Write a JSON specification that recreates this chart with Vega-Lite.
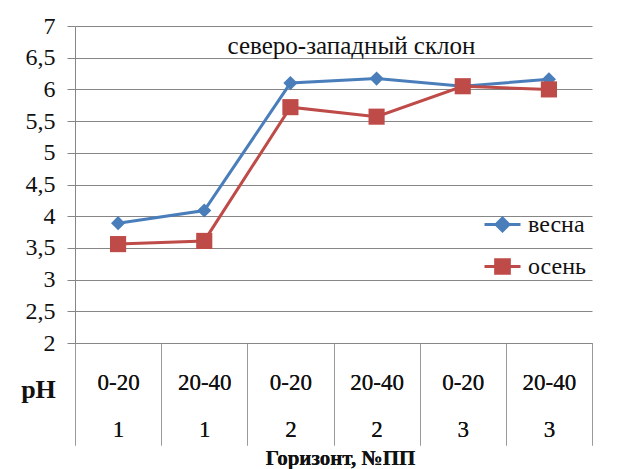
{
  "$schema": "https://vega.github.io/schema/vega-lite/v6.json",
  "width": 517,
  "height": 317,
  "autosize": "none",
  "padding": {"left": 75, "top": 26, "right": 46, "bottom": 126},
  "background": "white",
  "data": {
    "values": [
      {"sample": "0-20|1", "season": "весна", "pH": 3.89},
      {"sample": "20-40|1", "season": "весна", "pH": 4.09},
      {"sample": "0-20|2", "season": "весна", "pH": 6.1},
      {"sample": "20-40|2", "season": "весна", "pH": 6.17},
      {"sample": "0-20|3", "season": "весна", "pH": 6.05},
      {"sample": "20-40|3", "season": "весна", "pH": 6.16},
      {"sample": "0-20|1", "season": "осень", "pH": 3.56},
      {"sample": "20-40|1", "season": "осень", "pH": 3.61},
      {"sample": "0-20|2", "season": "осень", "pH": 5.72},
      {"sample": "20-40|2", "season": "осень", "pH": 5.57},
      {"sample": "0-20|3", "season": "осень", "pH": 6.05},
      {"sample": "20-40|3", "season": "осень", "pH": 6.0}
    ]
  },
  "encoding": {
    "x": {
      "field": "sample",
      "type": "nominal",
      "sort": null,
      "scale": {"type": "band", "paddingInner": 0, "paddingOuter": 0},
      "axis": {
        "title": "Горизонт, №ПП",
        "titleFontSize": 21,
        "titleFontWeight": "bold",
        "titleColor": "#111111",
        "titleBaseline": "middle",
        "titleY": 115,
        "titleX": 265,
        "labelExpr": "isString(datum.value) ? split(datum.value, '|') : ''",
        "labelAngle": 0,
        "labelFontSize": 23,
        "labelColor": "#111111",
        "labelBaseline": "top",
        "labelLineHeight": 47,
        "labelPadding": -74,
        "tickBand": "extent",
        "tickSize": 102,
        "tickColor": "#9a9a9a",
        "domainColor": "#868686",
        "grid": false
      }
    },
    "y": {
      "field": "pH",
      "type": "quantitative",
      "scale": {"domain": [2, 7], "nice": false, "zero": false},
      "axis": {
        "values": [2, 2.5, 3, 3.5, 4, 4.5, 5, 5.5, 6, 6.5, 7],
        "labelExpr": "replace(toString(datum.value), '.', ',')",
        "labelFontSize": 24,
        "labelColor": "#111111",
        "labelPadding": 12,
        "tickSize": 8,
        "tickColor": "#868686",
        "domainColor": "#868686",
        "gridColor": "#868686",
        "grid": true,
        "title": "pH",
        "titleAngle": 0,
        "titleFontSize": 26,
        "titleFontWeight": "bold",
        "titleColor": "#111111",
        "titleAlign": "center",
        "titleBaseline": "middle",
        "titleX": -37,
        "titleY": 363
      }
    },
    "color": {
      "field": "season",
      "type": "nominal",
      "scale": {"domain": ["весна", "осень"], "range": ["#4a7ebb", "#be4b48"]}
    }
  },
  "layer": [
    {
      "mark": {"type": "line", "strokeWidth": 3},
      "encoding": {
        "x": {
          "field": "sample",
          "type": "nominal",
          "sort": null,
          "axis": {
            "orient": "top",
            "title": "северо-западный склон",
            "titleFontSize": 25,
            "titleFontWeight": "normal",
            "titleColor": "#111111",
            "titleBaseline": "middle",
            "titleX": 276,
            "titleY": 19,
            "labels": false,
            "ticks": false,
            "domain": false,
            "grid": false
          }
        },
        "color": {
          "field": "season",
          "type": "nominal",
          "legend": {
            "orient": "none",
            "legendX": 408,
            "legendY": 179,
            "padding": 0,
            "title": null,
            "symbolSize": 1296,
            "rowPadding": 10,
            "labelOffset": 6,
            "labelFontSize": 24,
            "labelColor": "#111111",
            "labelBaseline": "middle",
            "encode": {
              "symbols": {
                "update": {
                  "shape": {"signal": "datum.value === 'весна' ? 'M-1,0L1,0M0,-0.36L0.36,0L0,0.36L-0.36,0Z' : 'M-1,0L1,0M-0.38,-0.38L0.38,-0.38L0.38,0.38L-0.38,0.38Z'"},
                  "fill": {"signal": "datum.value === 'весна' ? '#4a7ebb' : '#be4b48'"},
                  "stroke": {"signal": "datum.value === 'весна' ? '#4a7ebb' : '#be4b48'"},
                  "strokeWidth": {"value": 3},
                  "opacity": {"value": 1}
                }
              }
            }
          }
        }
      }
    },
    {
      "transform": [{"filter": "datum.season === 'весна'"}],
      "mark": {"type": "point", "shape": "diamond", "size": 200, "filled": true, "opacity": 1}
    },
    {
      "transform": [{"filter": "datum.season === 'осень'"}],
      "mark": {"type": "point", "shape": "square", "size": 260, "filled": true, "opacity": 1}
    }
  ],
  "resolve": {"axis": {"x": "independent"}},
  "config": {
    "font": "Liberation Serif",
    "view": {"stroke": null},
    "axis": {"gridWidth": 1, "domainWidth": 1, "tickWidth": 1, "labelFont": "Liberation Serif", "titleFont": "Liberation Serif"},
    "legend": {"labelFont": "Liberation Serif"}
  }
}
